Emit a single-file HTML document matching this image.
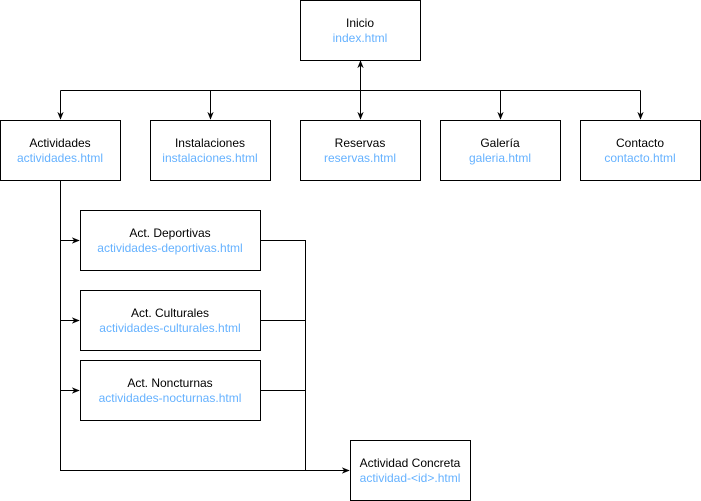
<!DOCTYPE html>
<html><head><meta charset="utf-8"><style>
html,body{margin:0;padding:0;background:#fff;}
svg{display:block;}
text{font-family:"Liberation Sans",Arial,sans-serif;font-size:12px;text-anchor:middle;}
.b{fill:#66b2ff;}
</style></head><body>
<svg width="701" height="501" viewBox="0 0 701 501">
<defs>
<marker id="a" viewBox="0 0 10 10" refX="9" refY="5" markerWidth="8" markerHeight="8" orient="auto" markerUnits="userSpaceOnUse">
<path d="M0,1 L10,5 L0,9 L3,5 Z" fill="#000"/></marker>
<marker id="s" viewBox="0 0 10 10" refX="1" refY="5" markerWidth="8" markerHeight="8" orient="auto" markerUnits="userSpaceOnUse">
<path d="M10,1 L0,5 L10,9 L7,5 Z" fill="#000"/></marker>
</defs>
<g fill="none" stroke="#000" stroke-width="1">
<path d="M60.5,90.5 H640.5"/>
<path d="M60.5,90.5 V119" marker-end="url(#a)"/>
<path d="M210.5,90.5 V119" marker-end="url(#a)"/>
<path d="M360.5,61 V119" marker-start="url(#s)" marker-end="url(#a)"/>
<path d="M500.5,90.5 V119" marker-end="url(#a)"/>
<path d="M640.5,90.5 V119" marker-end="url(#a)"/>
<path d="M60.5,180.5 V470.5 H349" marker-end="url(#a)"/>
<path d="M60.5,240.5 H79" marker-end="url(#a)"/>
<path d="M60.5,320.5 H79" marker-end="url(#a)"/>
<path d="M60.5,390.5 H79" marker-end="url(#a)"/>
<path d="M260.5,240.5 H305.5 V470.5"/>
<path d="M260.5,320.5 H305.5"/>
<path d="M260.5,390.5 H305.5"/>
</g>
<g fill="#fff" stroke="#000">
<rect x="300.5" y="0.5" width="120" height="60"/>
<rect x="0.5" y="120.5" width="120" height="60"/>
<rect x="150.5" y="120.5" width="120" height="60"/>
<rect x="300.5" y="120.5" width="120" height="60"/>
<rect x="440.5" y="120.5" width="120" height="60"/>
<rect x="580.5" y="120.5" width="120" height="60"/>
<rect x="80.5" y="210.5" width="180" height="60"/>
<rect x="80.5" y="290.5" width="180" height="60"/>
<rect x="80.5" y="360.5" width="180" height="60"/>
<rect x="350.5" y="440.5" width="120" height="60"/>
</g>
<text x="360" y="27">Inicio</text><text class="b" x="360" y="42">index.html</text>
<text x="60" y="147">Actividades</text><text class="b" x="60" y="162">actividades.html</text>
<text x="210" y="147">Instalaciones</text><text class="b" x="210" y="162">instalaciones.html</text>
<text x="360" y="147">Reservas</text><text class="b" x="360" y="162">reservas.html</text>
<text x="500" y="147">Galería</text><text class="b" x="500" y="162">galeria.html</text>
<text x="640" y="147">Contacto</text><text class="b" x="640" y="162">contacto.html</text>
<text x="170" y="237">Act. Deportivas</text><text class="b" x="170" y="252">actividades-deportivas.html</text>
<text x="170" y="317">Act. Culturales</text><text class="b" x="170" y="332">actividades-culturales.html</text>
<text x="170" y="387">Act. Noncturnas</text><text class="b" x="170" y="402">actividades-nocturnas.html</text>
<text x="410" y="467">Actividad Concreta</text><text class="b" x="410" y="482">actividad-&lt;id&gt;.html</text>
</svg>
</body></html>
